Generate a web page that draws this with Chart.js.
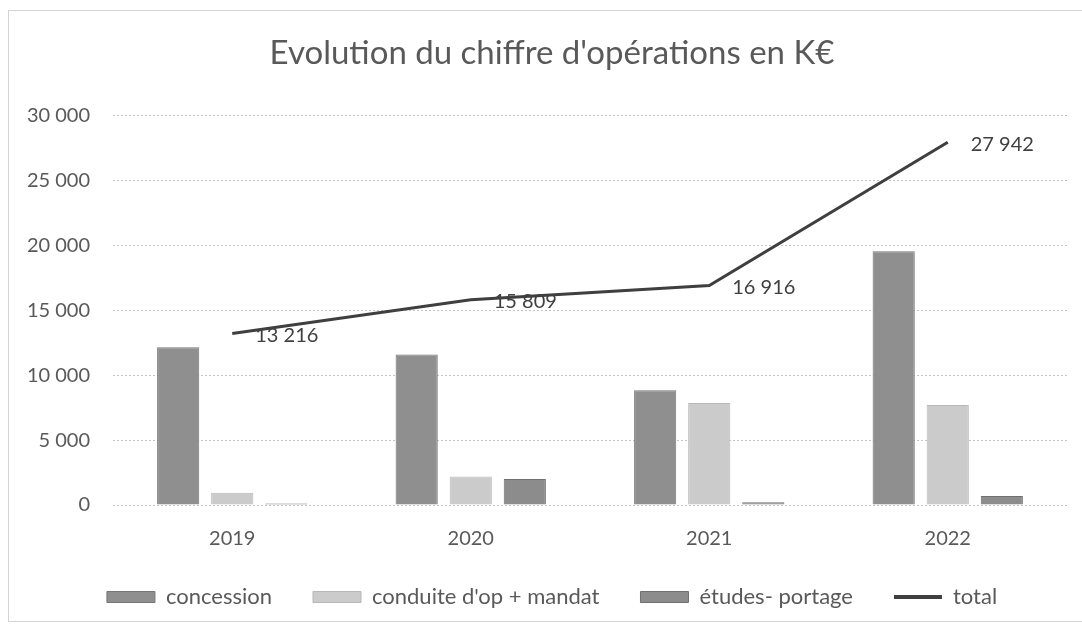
<!DOCTYPE html>
<html lang="fr">
<head>
<meta charset="utf-8">
<title>Evolution du chiffre d'opérations</title>
<script src="https://cdn.jsdelivr.net/npm/chart.js@4.4.1/dist/chart.umd.min.js"></script>
<style>
    html, body { margin: 0; padding: 0; background: #fff; }
    #wrap { position: relative; width: 1082px; height: 626px; overflow: hidden; }
    #frame {
        position: absolute; left: 8px; top: 10px; width: 1100px; height: 612px;
        border: 1px solid #d4d4d4; box-sizing: border-box;
    }
    #chart { position: absolute; left: 0; top: 0; }
</style>
</head>
<body>
<div id="wrap">
    <div id="frame"></div>
    <canvas id="chart" width="1082" height="626"></canvas>
</div>
<script>
const years = ['2019', '2020', '2021', '2022'];
const concession = [12150, 11600, 8850, 19550];
const conduite = [950, 2200, 7850, 7700];
const etudes = [116, 2009, 216, 692];
const total = [13216, 15809, 16916, 27942];

const textColor = '#595959';
const fontFamily = 'Lato, "Open Sans", sans-serif';

// 13216 -> "13 216"
function fmt(v) {
    return String(v).replace(/\B(?=(\d{3})+(?!\d))/g, ' ');
}

// value labels to the right of each point of the total line
const totalLabels = {
    id: 'totalLabels',
    afterDatasetsDraw(chart) {
        const meta = chart.getDatasetMeta(3);
        const ctx = chart.ctx;
        ctx.save();
        ctx.font = '20px ' + fontFamily;
        ctx.fillStyle = '#404040';
        ctx.textAlign = 'left';
        ctx.textBaseline = 'middle';
        meta.data.forEach((pt, i) => {
            ctx.fillText(fmt(total[i]), pt.x + 23, pt.y + 2);
        });
        ctx.restore();
    }
};

new Chart(document.getElementById('chart'), {
    data: {
        labels: years,
        datasets: [
            {
                type: 'bar', label: 'concession', data: concession, order: 1,
                backgroundColor: '#8f8f8f', borderColor: '#767676', borderWidth: 1
            },
            {
                type: 'bar', label: "conduite d'op + mandat", data: conduite, order: 1,
                backgroundColor: '#cbcbcb', borderColor: '#b8b8b8', borderWidth: 1
            },
            {
                type: 'bar', label: 'études- portage', data: etudes, order: 1,
                backgroundColor: '#8c8c8c', borderColor: '#707070', borderWidth: 1
            },
            {
                type: 'line', label: 'total', data: total, order: 0,
                borderColor: '#3f3f3f', backgroundColor: '#3f3f3f', borderWidth: 3,
                pointRadius: 0, tension: 0
            }
        ]
    },
    options: {
        responsive: false,
        animation: false,
        events: [],
        datasets: {
            bar: { categoryPercentage: 0.68, barPercentage: 0.78 }
        },
        layout: { padding: { top: 10, left: 37, right: 15, bottom: 8 } },
        plugins: {
            title: {
                display: true,
                text: "Evolution du chiffre d'opérations en K€",
                color: textColor,
                font: { family: fontFamily, size: 33, weight: 'normal' },
                padding: { top: 24, bottom: 42 }
            },
            legend: {
                position: 'bottom',
                labels: {
                    color: textColor,
                    font: { family: fontFamily, size: 22 },
                    usePointStyle: true,
                    pointStyleWidth: 48,
                    boxHeight: 11,
                    padding: 41,
                    sort: (a, b) => a.datasetIndex - b.datasetIndex,
                    generateLabels(chart) {
                        const items = Chart.defaults.plugins.legend.labels.generateLabels(chart);
                        items.forEach(it => {
                            if (it.datasetIndex === 3) {
                                it.pointStyle = 'line';
                                it.lineWidth = 4;
                                it.strokeStyle = '#3f3f3f';
                            } else {
                                it.pointStyle = 'rect';
                            }
                        });
                        return items;
                    }
                }
            },
            tooltip: { enabled: false }
        },
        scales: {
            x: {
                grid: { display: false },
                border: { display: false },
                ticks: { color: textColor, font: { family: fontFamily, size: 20 }, padding: 14 },
                afterFit(scale) { scale.height = 40; }
            },
            y: {
                min: 0,
                max: 30000,
                ticks: {
                    stepSize: 5000,
                    color: textColor,
                    font: { family: fontFamily, size: 20 },
                    padding: 23,
                    callback: v => fmt(v)
                },
                grid: { color: '#c4c4c4', lineWidth: 1, drawTicks: false },
                border: { display: false, dash: [2, 2] },
                afterFit(scale) {
                    scale.width = 76;
                    // tick labels are wider than the fixed axis box: don't clip them
                    scale._computeLabelArea = () => undefined;
                }
            }
        }
    },
    plugins: [totalLabels]
});
</script>
</body>
</html>
